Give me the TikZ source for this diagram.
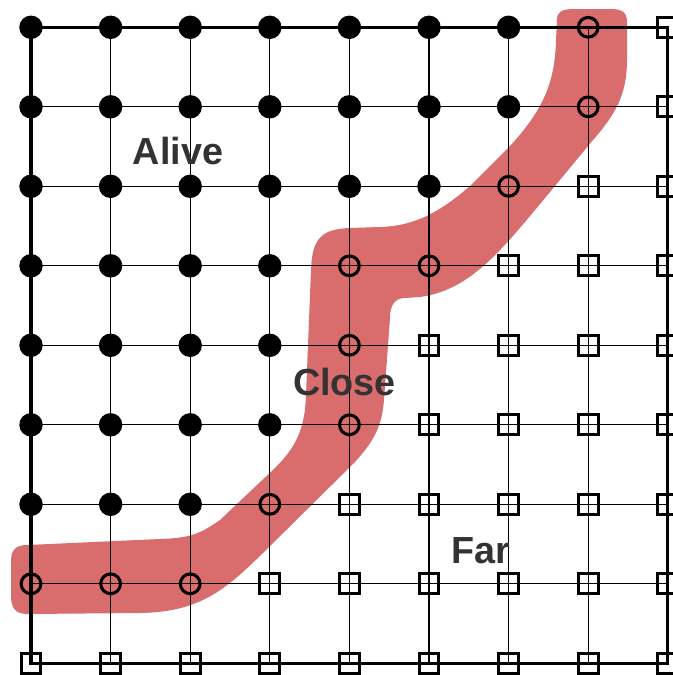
\documentclass[tikz,border=0pt]{standalone}
\usepackage{fontspec}
\setmainfont{Liberation Sans}
\definecolor{bandred}{RGB}{217,108,108}
\definecolor{labelgray}{RGB}{51,51,51}
\tikzset{
  alivept/.style={circle,fill=black,inner sep=0pt,minimum size=17.6pt},
  closept/.style={circle,draw=black,line width=2.3pt,inner sep=0pt,minimum size=14.8pt},
  farpt/.style={rectangle,draw=black,line width=2.3pt,inner sep=0pt,minimum size=14.8pt},
  gridline/.style={line width=0.95pt},
  borderline/.style={line width=2.5pt},
  lbl/.style={font=\bfseries\fontsize{28.3}{30}\selectfont,text=labelgray,inner sep=0pt}
}
\begin{document}
\begin{tikzpicture}[x=0.75pt,y=-0.75pt]
\useasboundingbox (0,0) rectangle (673,675);
% grid coordinates
\foreach \r in {0,...,8}
  \foreach \c in {0,...,8}
    \coordinate (g\r-\c) at ({31+79.6*\c},{27.3+79.5*\r});
% red band
\fill[bandred]
  (11,585) -- (11,562) .. controls (11,550) and (15,545) .. (28,545)
  -- (160,539) .. controls (190,538) and (200,534) .. (220,520)
  -- (275,468) .. controls (295,448) and (305,430) .. (306,395)
  -- (311,270) .. controls (312,240) and (320,229) .. (350,228)
  -- (380,227) .. controls (415,226) and (440,212) .. (470,186)
  -- (510,146) .. controls (545,108) and (555,80) .. (556,40)
  -- (557,20) .. controls (557,12) and (561,9) .. (575,9)
  -- (610,9) .. controls (622,9) and (627,12) .. (627,22)
  -- (627,60) .. controls (627,95) and (615,115) .. (593,140)
  -- (545,198) .. controls (500,252) and (470,290) .. (420,297)
  -- (405,298) .. controls (395,298) and (390,305) .. (390,318)
  -- (384,400) .. controls (382,425) and (375,440) .. (355,462)
  -- (263,553) .. controls (225,590) and (200,612) .. (140,613)
  -- (28,614) .. controls (15,614) and (11,608) .. (11,595) -- cycle;
% grid
\foreach \i in {0,...,8} {
  \draw[gridline] (g0-\i) -- (g8-\i);
  \draw[gridline] (g\i-0) -- (g\i-8);
}
\draw[borderline] (g0-0) rectangle (g8-8);
% labels
\node[lbl] (alive) at (178,151) {Alive};
\node[lbl] (close) at (344.5,382) {Close};
\node[lbl] (far) at (481,551) {Far};
% alive points
\foreach \r/\k in {0/6,1/6,2/5,3/3,4/3,5/3,6/2}
  \foreach \c in {0,...,\k}
    \node[alivept] (n\r-\c) at (g\r-\c) {};
% close points
\foreach \r/\c in {0/7,1/7,2/6,3/4,3/5,4/4,5/4,6/3,7/0,7/1,7/2}
  \node[closept] (n\r-\c) at (g\r-\c) {};
% far points
\foreach \r/\s in {0/8,1/8,2/7,3/6,4/5,5/5,6/4,7/3,8/0}
  \foreach \c in {\s,...,8}
    \node[farpt] (n\r-\c) at (g\r-\c) {};
\end{tikzpicture}
\end{document}
